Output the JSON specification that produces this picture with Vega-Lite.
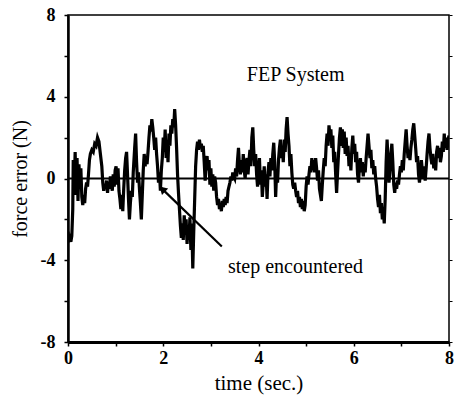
{
  "$schema": "https://vega.github.io/schema/vega-lite/v6.json",
  "width": 381,
  "height": 327,
  "autosize": "none",
  "padding": {"left": 68, "top": 15, "right": 8, "bottom": 57},
  "background": "white",
  "config": {
    "view": {"stroke": "black", "strokeWidth": 1.5},
    "font": "Liberation Serif"
  },
  "resolve": {"axis": {"y": "independent"}},
  "datasets": {
    "trace": [
      {"t":0.00,"v":-2.6},{"t":0.02,"v":-3.0},{"t":0.04,"v":-2.9},{"t":0.06,"v":-3.1},{"t":0.08,"v":-2.8},{"t":0.10,"v":-1.5},{"t":0.11,"v":0.9},{"t":0.13,"v":-0.6},{"t":0.15,"v":1.3},{"t":0.17,"v":-0.8},{"t":0.19,"v":1.0},{"t":0.21,"v":-1.1},{"t":0.23,"v":0.7},{"t":0.25,"v":-0.4},{"t":0.27,"v":0.5},{"t":0.29,"v":-0.9},{"t":0.31,"v":-1.3},{"t":0.33,"v":-0.8},{"t":0.35,"v":-1.2},{"t":0.37,"v":-0.5},{"t":0.39,"v":-0.2},{"t":0.41,"v":-0.4},{"t":0.43,"v":0.2},{"t":0.45,"v":0.9},{"t":0.47,"v":1.2},{"t":0.50,"v":1.4},{"t":0.53,"v":1.3},{"t":0.56,"v":1.7},{"t":0.59,"v":1.6},{"t":0.62,"v":2.0},{"t":0.65,"v":1.8},{"t":0.68,"v":1.2},{"t":0.71,"v":0.6},{"t":0.73,"v":-0.2},{"t":0.75,"v":-0.6},{"t":0.77,"v":-0.3},{"t":0.79,"v":-0.5},{"t":0.81,"v":-0.1},{"t":0.83,"v":-0.7},{"t":0.85,"v":-0.2},{"t":0.87,"v":-0.5},{"t":0.89,"v":0.1},{"t":0.91,"v":-0.3},{"t":0.93,"v":-0.6},{"t":0.95,"v":0.2},{"t":0.97,"v":-0.4},{"t":0.99,"v":0.4},
      {"t":1.01,"v":0.6},{"t":1.03,"v":-0.3},{"t":1.05,"v":0.5},{"t":1.07,"v":-0.6},{"t":1.09,"v":-1.0},{"t":1.11,"v":-1.5},{"t":1.13,"v":-0.8},{"t":1.15,"v":-1.6},{"t":1.17,"v":-0.5},{"t":1.19,"v":0.4},{"t":1.21,"v":1.0},{"t":1.23,"v":1.3},{"t":1.25,"v":0.2},{"t":1.27,"v":-1.0},{"t":1.29,"v":-2.0},{"t":1.31,"v":-1.2},{"t":1.33,"v":-0.6},{"t":1.35,"v":-0.9},{"t":1.37,"v":0.3},{"t":1.40,"v":1.5},{"t":1.42,"v":2.2},{"t":1.44,"v":0.8},{"t":1.46,"v":-0.2},{"t":1.48,"v":0.3},{"t":1.50,"v":-0.5},{"t":1.52,"v":-1.2},{"t":1.54,"v":-2.0},{"t":1.56,"v":-0.8},{"t":1.58,"v":0.4},{"t":1.60,"v":1.2},{"t":1.62,"v":0.6},{"t":1.64,"v":1.1},{"t":1.66,"v":0.7},{"t":1.68,"v":1.3},{"t":1.70,"v":2.0},{"t":1.72,"v":2.6},{"t":1.74,"v":2.3},{"t":1.76,"v":2.9},{"t":1.78,"v":2.5},{"t":1.80,"v":2.0},{"t":1.82,"v":1.4},{"t":1.84,"v":2.0},{"t":1.86,"v":1.2},{"t":1.88,"v":0.6},{"t":1.90,"v":-0.2},{"t":1.92,"v":0.3},{"t":1.94,"v":-0.6},{"t":1.96,"v":0.4},{"t":1.98,"v":1.0},
      {"t":2.00,"v":2.0},{"t":2.02,"v":1.3},{"t":2.04,"v":2.4},{"t":2.06,"v":1.0},{"t":2.08,"v":1.8},{"t":2.10,"v":0.8},{"t":2.12,"v":2.2},{"t":2.14,"v":1.6},{"t":2.16,"v":2.6},{"t":2.18,"v":2.2},{"t":2.20,"v":2.9},{"t":2.22,"v":2.5},{"t":2.24,"v":3.4},{"t":2.26,"v":2.6},{"t":2.28,"v":1.5},{"t":2.30,"v":0.2},{"t":2.32,"v":-0.7},{"t":2.34,"v":-1.5},{"t":2.36,"v":-2.3},{"t":2.38,"v":-2.9},{"t":2.40,"v":-2.2},{"t":2.42,"v":-3.0},{"t":2.44,"v":-1.8},{"t":2.46,"v":-2.6},{"t":2.48,"v":-2.0},{"t":2.50,"v":-3.2},{"t":2.52,"v":-2.4},{"t":2.54,"v":-3.0},{"t":2.56,"v":-1.9},{"t":2.58,"v":-3.5},{"t":2.60,"v":-2.2},{"t":2.62,"v":-4.4},{"t":2.64,"v":-2.6},{"t":2.66,"v":-1.0},{"t":2.68,"v":0.6},{"t":2.70,"v":1.4},{"t":2.72,"v":1.8},{"t":2.74,"v":1.4},{"t":2.76,"v":1.9},{"t":2.78,"v":1.5},{"t":2.80,"v":1.7},{"t":2.82,"v":1.3},{"t":2.84,"v":1.6},{"t":2.86,"v":0.8},{"t":2.88,"v":-0.1},{"t":2.90,"v":0.6},{"t":2.92,"v":1.1},{"t":2.94,"v":0.4},{"t":2.96,"v":0.9},{"t":2.98,"v":-0.3},
      {"t":3.00,"v":0.5},{"t":3.02,"v":-0.4},{"t":3.04,"v":0.2},{"t":3.06,"v":-0.6},{"t":3.08,"v":0.1},{"t":3.10,"v":-0.2},{"t":3.12,"v":-0.9},{"t":3.14,"v":-1.3},{"t":3.16,"v":-1.0},{"t":3.18,"v":-1.5},{"t":3.20,"v":-1.2},{"t":3.22,"v":-1.6},{"t":3.24,"v":-1.1},{"t":3.26,"v":-1.4},{"t":3.28,"v":-1.0},{"t":3.30,"v":-1.3},{"t":3.32,"v":-0.9},{"t":3.34,"v":-1.2},{"t":3.36,"v":-0.6},{"t":3.38,"v":-0.4},{"t":3.40,"v":-0.2},{"t":3.42,"v":0.1},{"t":3.44,"v":-0.1},{"t":3.46,"v":0.3},{"t":3.48,"v":0.1},{"t":3.50,"v":0.0},{"t":3.52,"v":0.5},{"t":3.54,"v":0.1},{"t":3.56,"v":0.9},{"t":3.58,"v":1.5},{"t":3.60,"v":0.6},{"t":3.62,"v":0.2},{"t":3.64,"v":0.9},{"t":3.66,"v":0.3},{"t":3.68,"v":1.2},{"t":3.70,"v":0.4},{"t":3.72,"v":0.0},{"t":3.74,"v":0.8},{"t":3.76,"v":1.0},{"t":3.78,"v":0.2},{"t":3.80,"v":0.9},{"t":3.82,"v":1.4},{"t":3.84,"v":0.6},{"t":3.86,"v":2.0},{"t":3.88,"v":2.5},{"t":3.90,"v":1.4},{"t":3.92,"v":0.6},{"t":3.94,"v":1.2},{"t":3.96,"v":0.2},{"t":3.98,"v":-0.4},
      {"t":4.00,"v":0.5},{"t":4.02,"v":1.0},{"t":4.04,"v":-0.3},{"t":4.06,"v":0.4},{"t":4.08,"v":-0.9},{"t":4.10,"v":-0.2},{"t":4.12,"v":0.6},{"t":4.14,"v":-0.4},{"t":4.16,"v":0.2},{"t":4.18,"v":-1.0},{"t":4.20,"v":0.3},{"t":4.22,"v":0.8},{"t":4.24,"v":0.1},{"t":4.26,"v":1.0},{"t":4.28,"v":0.4},{"t":4.30,"v":1.2},{"t":4.32,"v":1.75},{"t":4.34,"v":0.8},{"t":4.36,"v":-0.9},{"t":4.38,"v":0.3},{"t":4.40,"v":-0.2},{"t":4.42,"v":0.9},{"t":4.44,"v":1.5},{"t":4.46,"v":1.9},{"t":4.48,"v":1.0},{"t":4.50,"v":1.6},{"t":4.52,"v":0.8},{"t":4.54,"v":1.9},{"t":4.56,"v":1.3},{"t":4.58,"v":2.4},{"t":4.60,"v":3.0},{"t":4.62,"v":2.2},{"t":4.64,"v":1.6},{"t":4.66,"v":0.6},{"t":4.68,"v":1.2},{"t":4.70,"v":0.3},{"t":4.72,"v":-0.3},{"t":4.74,"v":-0.5},{"t":4.76,"v":-0.2},{"t":4.78,"v":-0.6},{"t":4.80,"v":-0.9},{"t":4.82,"v":-0.6},{"t":4.84,"v":-1.2},{"t":4.86,"v":-0.9},{"t":4.88,"v":-1.4},{"t":4.90,"v":-1.0},{"t":4.92,"v":-1.5},{"t":4.94,"v":-1.1},{"t":4.96,"v":-1.6},{"t":4.98,"v":-1.3},
      {"t":5.00,"v":-0.4},{"t":5.02,"v":0.1},{"t":5.04,"v":-0.3},{"t":5.06,"v":0.2},{"t":5.08,"v":0.6},{"t":5.10,"v":0.3},{"t":5.12,"v":1.0},{"t":5.14,"v":0.4},{"t":5.16,"v":0.9},{"t":5.18,"v":0.3},{"t":5.20,"v":1.0},{"t":5.22,"v":0.5},{"t":5.24,"v":-0.1},{"t":5.26,"v":0.4},{"t":5.28,"v":-0.5},{"t":5.30,"v":-0.8},{"t":5.32,"v":-1.1},{"t":5.34,"v":-0.3},{"t":5.36,"v":0.4},{"t":5.38,"v":1.0},{"t":5.40,"v":0.6},{"t":5.42,"v":1.6},{"t":5.44,"v":2.2},{"t":5.46,"v":1.6},{"t":5.48,"v":2.6},{"t":5.50,"v":2.1},{"t":5.52,"v":2.4},{"t":5.54,"v":1.5},{"t":5.56,"v":2.1},{"t":5.58,"v":0.8},{"t":5.60,"v":1.3},{"t":5.62,"v":0.2},{"t":5.64,"v":-0.7},{"t":5.66,"v":0.3},{"t":5.68,"v":1.2},{"t":5.70,"v":2.0},{"t":5.72,"v":2.5},{"t":5.74,"v":1.6},{"t":5.76,"v":2.4},{"t":5.78,"v":1.5},{"t":5.80,"v":2.3},{"t":5.82,"v":1.2},{"t":5.84,"v":2.0},{"t":5.86,"v":1.1},{"t":5.88,"v":1.6},{"t":5.90,"v":0.6},{"t":5.92,"v":1.2},{"t":5.94,"v":0.4},{"t":5.96,"v":1.5},{"t":5.98,"v":2.1},
      {"t":6.00,"v":1.2},{"t":6.02,"v":1.7},{"t":6.04,"v":0.8},{"t":6.06,"v":1.3},{"t":6.08,"v":0.2},{"t":6.10,"v":-0.2},{"t":6.12,"v":0.6},{"t":6.14,"v":1.0},{"t":6.16,"v":0.3},{"t":6.18,"v":0.8},{"t":6.20,"v":0.1},{"t":6.22,"v":0.7},{"t":6.24,"v":0.3},{"t":6.26,"v":1.0},{"t":6.28,"v":1.6},{"t":6.30,"v":2.2},{"t":6.32,"v":1.6},{"t":6.34,"v":1.0},{"t":6.36,"v":1.4},{"t":6.38,"v":0.5},{"t":6.40,"v":0.9},{"t":6.42,"v":0.2},{"t":6.44,"v":0.6},{"t":6.46,"v":0.0},{"t":6.48,"v":-0.4},{"t":6.50,"v":-1.0},{"t":6.52,"v":-1.4},{"t":6.54,"v":-0.8},{"t":6.56,"v":-1.7},{"t":6.58,"v":-1.2},{"t":6.60,"v":-2.0},{"t":6.62,"v":-1.5},{"t":6.64,"v":-2.2},{"t":6.66,"v":-1.0},{"t":6.68,"v":0.8},{"t":6.70,"v":1.9},{"t":6.72,"v":0.9},{"t":6.74,"v":-0.2},{"t":6.76,"v":0.4},{"t":6.78,"v":1.2},{"t":6.80,"v":1.7},{"t":6.82,"v":0.8},{"t":6.84,"v":-0.3},{"t":6.86,"v":-0.7},{"t":6.88,"v":-0.2},{"t":6.90,"v":-0.5},{"t":6.92,"v":-0.1},{"t":6.94,"v":-0.3},{"t":6.96,"v":0.2},{"t":6.98,"v":0.6},
      {"t":7.00,"v":0.3},{"t":7.02,"v":0.9},{"t":7.04,"v":0.4},{"t":7.06,"v":1.2},{"t":7.08,"v":1.8},{"t":7.10,"v":2.4},{"t":7.12,"v":1.6},{"t":7.14,"v":1.0},{"t":7.16,"v":1.4},{"t":7.18,"v":0.9},{"t":7.20,"v":1.5},{"t":7.22,"v":1.9},{"t":7.24,"v":2.4},{"t":7.26,"v":2.7},{"t":7.28,"v":2.1},{"t":7.30,"v":1.5},{"t":7.32,"v":0.8},{"t":7.34,"v":1.1},{"t":7.36,"v":0.2},{"t":7.38,"v":-0.2},{"t":7.40,"v":0.3},{"t":7.42,"v":0.9},{"t":7.44,"v":0.4},{"t":7.46,"v":0.0},{"t":7.48,"v":0.6},{"t":7.50,"v":-0.1},{"t":7.52,"v":0.5},{"t":7.54,"v":1.2},{"t":7.56,"v":1.8},{"t":7.58,"v":2.2},{"t":7.60,"v":1.5},{"t":7.62,"v":1.0},{"t":7.64,"v":0.7},{"t":7.66,"v":1.2},{"t":7.68,"v":0.5},{"t":7.70,"v":0.9},{"t":7.72,"v":0.4},{"t":7.74,"v":1.3},{"t":7.76,"v":1.6},{"t":7.78,"v":1.0},{"t":7.80,"v":1.5},{"t":7.82,"v":0.8},{"t":7.84,"v":1.1},{"t":7.86,"v":1.8},{"t":7.88,"v":1.3},{"t":7.90,"v":2.2},{"t":7.92,"v":1.5},{"t":7.94,"v":2.0},{"t":7.96,"v":1.4},{"t":7.98,"v":1.9},{"t":8.00,"v":2.1}
    ],
    "label1": [{"t": 4.78, "v": 4.77, "label": "FEP System"}],
    "label2": [{"t": 3.36, "v": -4.6, "label": "step encountered"}],
    "arrow": [{"t": 3.23, "v": -3.33, "t2": 1.96, "v2": -0.47}],
    "head": [{"t": 1.98, "v": -0.52}],
    "zero": [{"v": 0}]
  },
  "layer": [
    {
      "data": {"name": "trace"},
      "mark": {"type": "line", "color": "black", "strokeWidth": 3.2, "strokeJoin": "miter", "clip": true},
      "encoding": {
        "x": {
          "field": "t", "type": "quantitative",
          "scale": {"domain": [0, 8], "nice": false, "zero": false},
          "axis": {
            "title": "time (sec.)",
            "values": [0, 1, 2, 3, 4, 5, 6, 7, 8],
            "labelExpr": "datum.value % 2 === 0 ? '' + datum.value : ''",
            "grid": false,
            "domainColor": "black", "domainWidth": 3,
            "tickColor": "black", "tickSize": 4, "tickWidth": 1.5,
            "labelFont": "Liberation Serif", "labelFontSize": 18, "labelFontWeight": "bold", "labelColor": "black",
            "labelPadding": 3, "labelFlush": false,
            "titleFont": "Liberation Serif", "titleFontSize": 21, "titleFontWeight": "normal", "titleColor": "black",
            "titlePadding": 5
          }
        },
        "y": {
          "field": "v", "type": "quantitative",
          "scale": {"domain": [-8, 8], "nice": false, "zero": false},
          "axis": {
            "orient": "left",
            "title": "force error (N)",
            "values": [-8, -6, -4, -2, 0, 2, 4, 6, 8],
            "labelExpr": "datum.value % 4 === 0 ? '' + datum.value : ''",
            "grid": false,
            "domainColor": "black", "domainWidth": 2.5,
            "tickColor": "black", "tickSize": 4, "tickWidth": 1.5,
            "labelFont": "Liberation Serif", "labelFontSize": 18, "labelFontWeight": "bold", "labelColor": "black",
            "labelPadding": 9, "labelFlush": false,
            "titleFont": "Liberation Serif", "titleFontSize": 20, "titleFontWeight": "normal", "titleColor": "black",
            "titlePadding": 10
          }
        }
      }
    },
    {
      "data": {"name": "zero"},
      "mark": {"type": "rule", "color": "black", "strokeWidth": 1.8},
      "encoding": {
        "y": {
          "field": "v", "type": "quantitative",
          "axis": {"orient": "right", "title": null, "labels": false, "domain": false, "grid": false,
                   "values": [-8, -6, -4, -2, 0, 2, 4, 6, 8], "tickSize": 3, "tickColor": "black", "tickWidth": 1}
        }
      }
    },
    {
      "data": {"name": "arrow"},
      "mark": {"type": "rule", "color": "black", "strokeWidth": 2.2},
      "encoding": {
        "x": {"field": "t", "type": "quantitative"},
        "y": {"field": "v", "type": "quantitative", "axis": null},
        "x2": {"field": "t2"},
        "y2": {"field": "v2"}
      }
    },
    {
      "data": {"name": "head"},
      "mark": {"type": "point", "shape": "triangle-up", "filled": true, "color": "black", "opacity": 1, "size": 80, "angle": 314},
      "encoding": {
        "x": {"field": "t", "type": "quantitative"},
        "y": {"field": "v", "type": "quantitative", "axis": null}
      }
    },
    {
      "data": {"name": "label1"},
      "mark": {"type": "text", "font": "Liberation Serif", "fontSize": 20, "color": "black", "baseline": "alphabetic", "align": "center"},
      "encoding": {
        "x": {"field": "t", "type": "quantitative"},
        "y": {"field": "v", "type": "quantitative", "axis": null},
        "text": {"field": "label"}
      }
    },
    {
      "data": {"name": "label2"},
      "mark": {"type": "text", "font": "Liberation Serif", "fontSize": 20, "color": "black", "baseline": "alphabetic", "align": "left"},
      "encoding": {
        "x": {"field": "t", "type": "quantitative"},
        "y": {"field": "v", "type": "quantitative", "axis": null},
        "text": {"field": "label"}
      }
    }
  ]
}
